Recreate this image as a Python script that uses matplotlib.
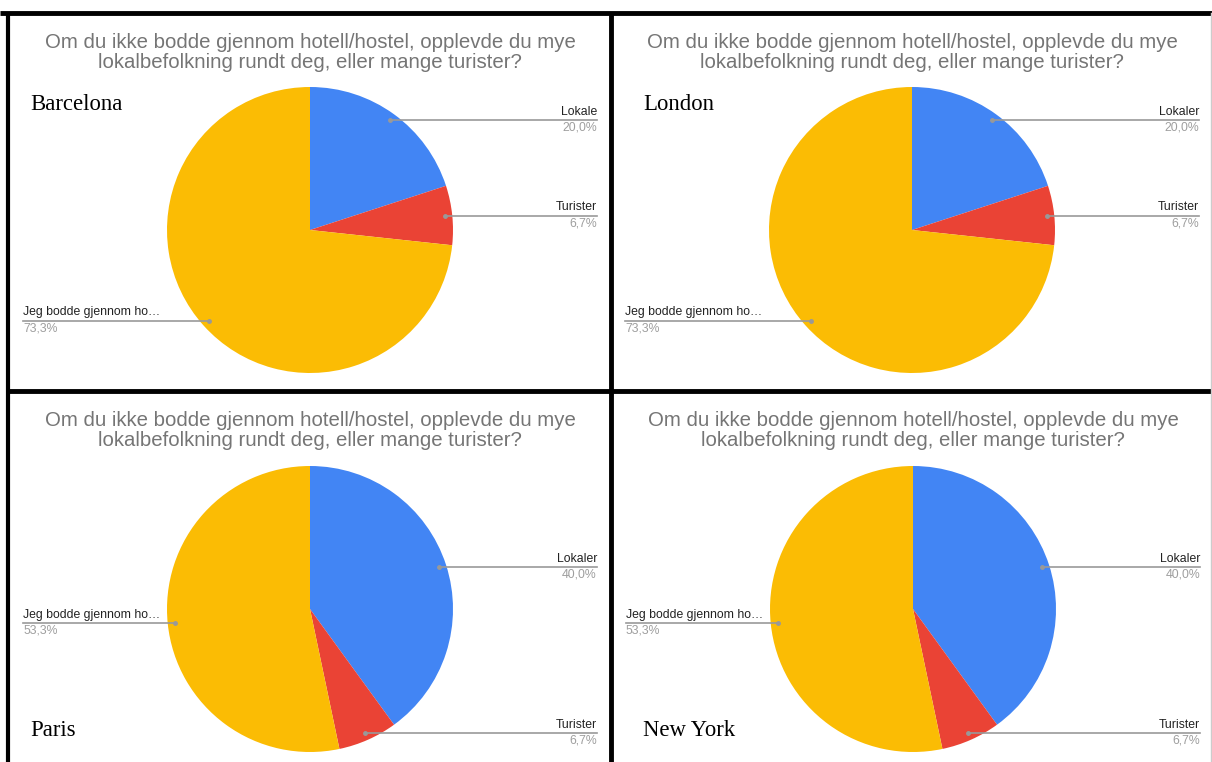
import matplotlib.pyplot as plt
import numpy as np

# Survey answers per city (share of respondents, %)
cities = ["Barcelona", "London", "Paris", "New York"]
local_names = ["Lokale", "Lokaler", "Lokaler", "Lokaler"]
lokale = [20.0, 20.0, 40.0, 40.0]
turister = [6.7, 6.7, 6.7, 6.7]
hotell = [73.3, 73.3, 53.3, 53.3]
hotell_name = "Jeg bodde gjennom ho\u2026"

title = ("Om du ikke bodde gjennom hotell/hostel, opplevde du mye\n"
         "lokalbefolkning rundt deg, eller mange turister?")

colors = ["#4285F4", "#EA4335", "#FBBC04"]
W, H = 1212, 762

fig = plt.figure(figsize=(W / 100, H / 100), dpi=100)
ax = fig.add_axes([0, 0, 1, 1])

# panel layout in pixels: pie centre (x, y from top), city label position
panels = [(310, 230, 30, 104), (912, 230, 643, 104),
          (310, 609, 30, 730), (913, 609, 643, 730)]
R = 143

for i, (cx, cy, lx, ly) in enumerate(panels):
    vals = [lokale[i], turister[i], hotell[i]]
    names = [local_names[i], "Turister", hotell_name]
    wedges, _ = ax.pie(vals, colors=colors, startangle=90, counterclock=False,
                       center=(cx, H - cy), radius=R, frame=True)

    title_y = H - 33 if cy < 400 else H - 411
    ax.text(cx, title_y, title, ha="center", va="top", fontsize=14.7,
            color="#757575", family="Liberation Sans", linespacing=1.04)
    ax.text(lx, H - ly, cities[i], ha="left", va="center", fontsize=16.4,
            color="black", family="Liberation Serif")

    for w, name, v in zip(wedges, names, vals):
        mid = np.deg2rad((w.theta1 + w.theta2) / 2)
        px = cx + 0.95 * R * np.cos(mid)
        py = H - cy + 0.95 * R * np.sin(mid)
        if px >= cx:
            x_end = cx + 287
            ha = "right"
        else:
            x_end = cx - 287
            ha = "left"
        ax.plot([px, x_end], [py, py], color="#999999", lw=1.2)
        ax.plot(px, py, "o", color="#999999", ms=2.5)
        ax.text(x_end, py + 2.5, name, ha=ha, va="bottom", fontsize=8.8,
                color="#222222", family="Liberation Sans")
        ax.text(x_end, py - 1.5, f"{v:.1f}%".replace(".", ","), ha=ha, va="top",
                fontsize=8.8, color="#9e9e9e", family="Liberation Sans")

# black frame between the four charts
ax.plot([0, W], [H - 13, H - 13], color="black", lw=3.5, solid_capstyle="butt")
ax.plot([8, 8], [0, H - 13], color="black", lw=3.0, solid_capstyle="butt")
ax.plot([611, 611], [0, H - 13], color="black", lw=3.5, solid_capstyle="butt")
ax.plot([8, W], [H - 391, H - 391], color="black", lw=3.5, solid_capstyle="butt")
ax.plot([W - 1, W - 1], [0, H - 13], color="#cccccc", lw=1)

ax.set_xlim(0, W)
ax.set_ylim(0, H)
ax.set_aspect("equal")
ax.axis("off")

fig.savefig("out.png", dpi=100)
